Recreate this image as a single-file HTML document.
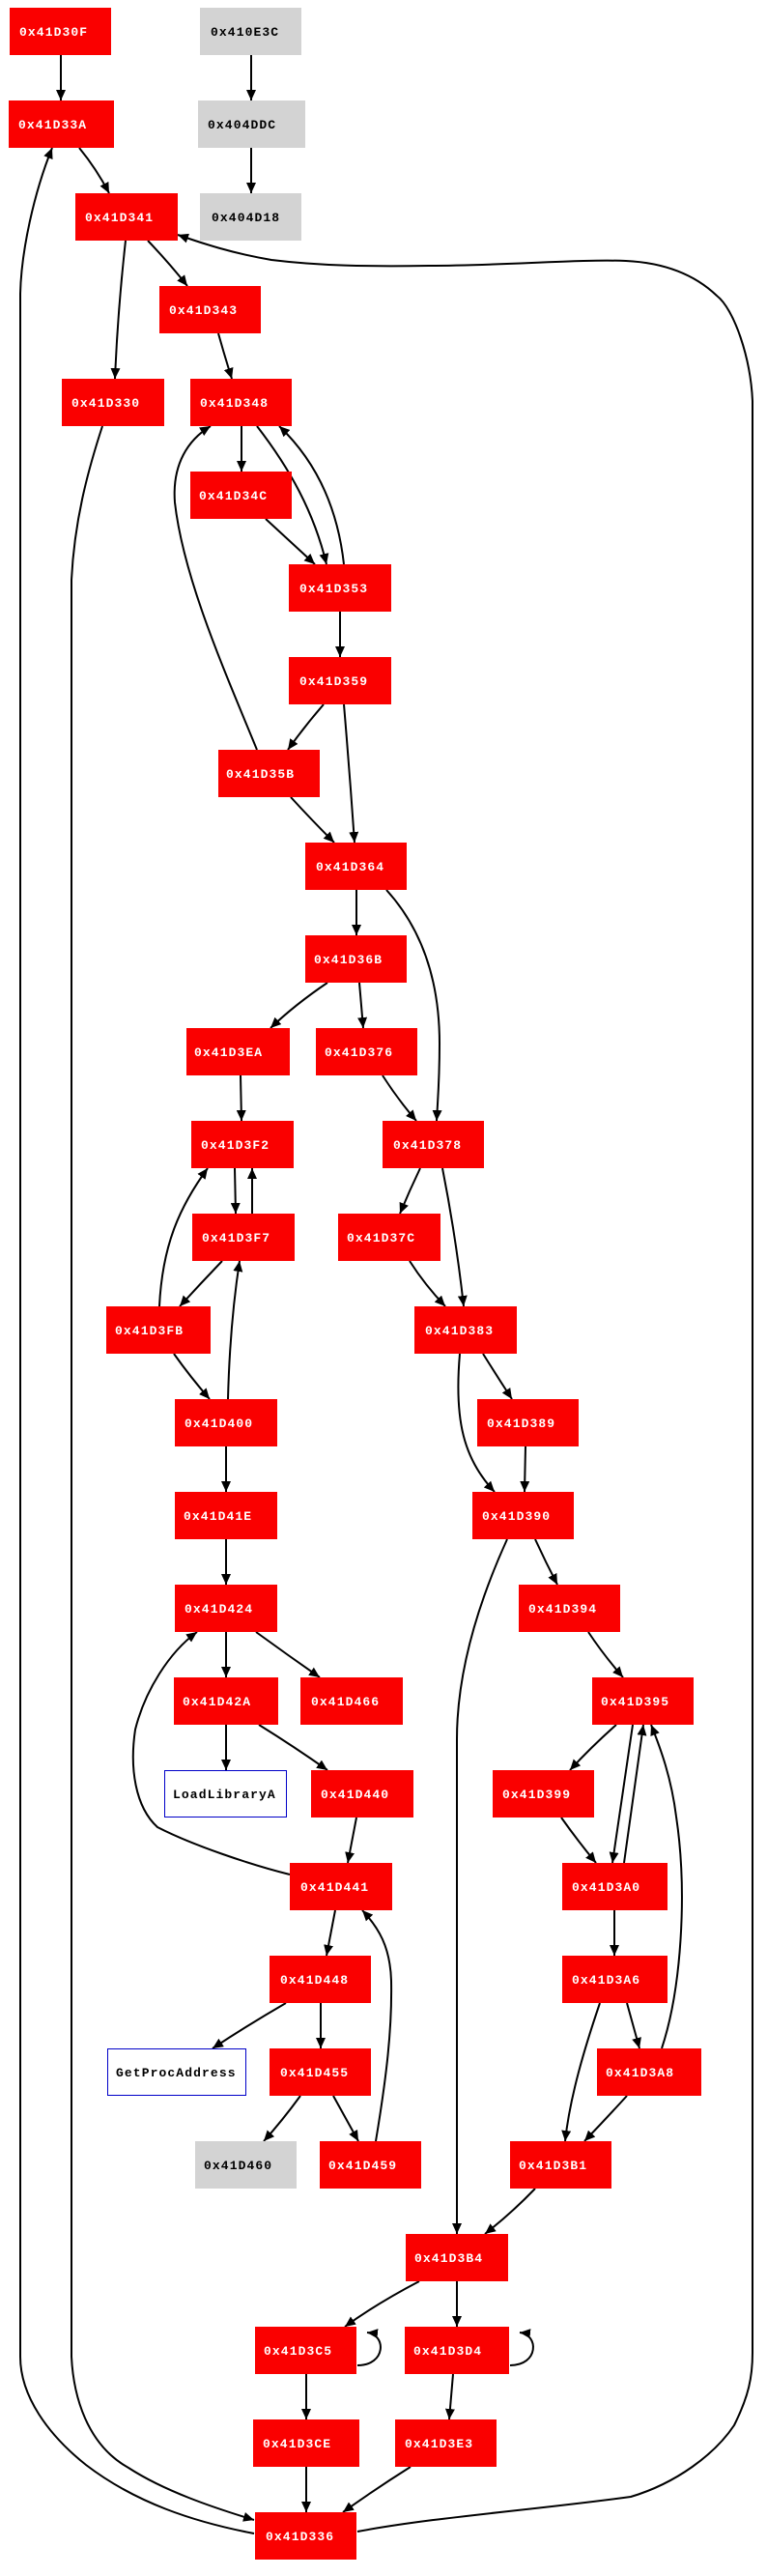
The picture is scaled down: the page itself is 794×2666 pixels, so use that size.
<!DOCTYPE html>
<html><head><meta charset="utf-8"><style>
html,body{margin:0;padding:0;background:#fff;}
svg{display:block;}
text{font-family:"Liberation Mono",monospace;font-size:13px;letter-spacing:1.1px;font-weight:bold;}
</style></head><body>
<svg width="794" height="2666" viewBox="0 0 794 2666" xmlns="http://www.w3.org/2000/svg">
<defs>
<marker id="a" markerUnits="userSpaceOnUse" markerWidth="12" markerHeight="10" refX="11" refY="5" orient="auto">
<path d="M0,0 L11,5 L0,10 Z" fill="#000"/>
</marker>
</defs>
<g fill="none" stroke="#000" stroke-width="2" marker-end="url(#a)">
<path d="M63,57 L63,104"/>
<path d="M260,57 L260,104"/>
<path d="M260,153 L260,200"/>
<path d="M82,153 Q100,175 113,200"/>
<path d="M153,249 Q175,272 194,296"/>
<path d="M130,249 Q122,320 119,392"/>
<path d="M226,345 Q233,370 240,392"/>
<path d="M250,441 L250,488"/>
<path d="M266,441 C300,485 325,530 338,584"/>
<path d="M356,584 C350,530 330,480 289,441"/>
<path d="M275,537 Q300,560 326,584"/>
<path d="M352,633 L352,680"/>
<path d="M335,729 Q315,752 298,776"/>
<path d="M356,729 Q362,800 367,872"/>
<path d="M266,776 C235,700 190,600 181,520 C178,480 195,455 218,441"/>
<path d="M301,825 Q322,848 346,872"/>
<path d="M369,921 L369,968"/>
<path d="M400,921 C440,965 455,1020 455,1080 C455,1120 453,1140 452,1160"/>
<path d="M339,1017 Q305,1040 280,1064"/>
<path d="M372,1017 Q374,1040 376,1064"/>
<path d="M249,1113 L250,1160"/>
<path d="M396,1113 Q412,1138 431,1160"/>
<path d="M243,1209 L244,1256"/>
<path d="M261,1256 L261,1209"/>
<path d="M165,1352 C168,1290 185,1250 215,1209"/>
<path d="M230,1305 Q208,1328 186,1352"/>
<path d="M435,1209 Q424,1232 414,1256"/>
<path d="M458,1209 Q472,1280 480,1352"/>
<path d="M424,1305 Q440,1330 461,1352"/>
<path d="M180,1401 Q197,1425 217,1448"/>
<path d="M236,1448 Q238,1370 248,1305"/>
<path d="M500,1401 Q515,1425 530,1448"/>
<path d="M476,1401 C470,1470 480,1510 512,1544"/>
<path d="M544,1497 L543,1544"/>
<path d="M234,1497 L234,1544"/>
<path d="M234,1593 L234,1640"/>
<path d="M554,1593 Q565,1617 577,1640"/>
<path d="M525,1593 C490,1670 473,1740 473,1800 L473,2312"/>
<path d="M609,1689 Q625,1713 645,1736"/>
<path d="M234,1689 L234,1736"/>
<path d="M265,1689 Q298,1713 331,1736"/>
<path d="M234,1785 L234,1832"/>
<path d="M268,1785 Q305,1808 339,1832"/>
<path d="M300,1940 C260,1930 200,1910 163,1891 C140,1870 134,1830 140,1790 C150,1750 175,1710 204,1689"/>
<path d="M369,1881 L360,1928"/>
<path d="M347,1977 L338,2024"/>
<path d="M389,2216 C400,2150 406,2100 405,2050 C404,2015 392,1995 375,1977"/>
<path d="M296,2073 Q258,2095 220,2120"/>
<path d="M332,2073 L332,2120"/>
<path d="M311,2169 Q292,2195 273,2216"/>
<path d="M345,2169 L371,2216"/>
<path d="M638,1785 Q612,1808 590,1832"/>
<path d="M655,1785 L634,1928"/>
<path d="M646,1928 L666,1785"/>
<path d="M685,2120 C705,2060 712,1960 700,1880 C695,1840 684,1810 674,1785"/>
<path d="M581,1881 Q598,1905 617,1928"/>
<path d="M636,1977 L636,2024"/>
<path d="M649,2073 L662,2120"/>
<path d="M621,2073 C605,2120 590,2170 585,2216"/>
<path d="M649,2169 Q628,2192 605,2216"/>
<path d="M554,2265 Q530,2290 502,2312"/>
<path d="M434,2361 Q390,2384 357,2408"/>
<path d="M473,2361 L473,2408"/>
<path d="M370,2448 C400,2448 400,2416 380,2414"/>
<path d="M528,2448 C558,2448 558,2416 538,2414"/>
<path d="M317,2457 L317,2504"/>
<path d="M469,2457 L465,2504"/>
<path d="M317,2553 L317,2600"/>
<path d="M425,2553 Q390,2575 355,2600"/>
<path d="M106,441 C90,490 77,540 74,600 L74,2439 C76,2480 90,2530 133,2554 C170,2578 220,2595 263,2608"/>
<path d="M263,2622 C200,2610 140,2590 89,2551 C50,2520 21,2480 21,2439 L21,304 C22,260 35,200 54,153"/>
<path d="M370,2620 C450,2605 550,2598 653,2584 C700,2570 740,2540 760,2510 C775,2480 779,2460 779,2435 L779,415 C777,370 760,320 742,306 C720,285 690,272 648,270 C600,268 520,275 444,275 C380,276 330,275 281,269 C240,262 210,252 184,243"/>
</g>
<g>
<rect x="10" y="8" width="105" height="49" fill="#fa0000"/>
<rect x="207" y="8" width="105" height="49" fill="#d3d3d3"/>
<rect x="9" y="104" width="109" height="49" fill="#fa0000"/>
<rect x="205" y="104" width="111" height="49" fill="#d3d3d3"/>
<rect x="78" y="200" width="106" height="49" fill="#fa0000"/>
<rect x="207" y="200" width="105" height="49" fill="#d3d3d3"/>
<rect x="165" y="296" width="105" height="49" fill="#fa0000"/>
<rect x="64" y="392" width="106" height="49" fill="#fa0000"/>
<rect x="197" y="392" width="105" height="49" fill="#fa0000"/>
<rect x="197" y="488" width="105" height="49" fill="#fa0000"/>
<rect x="299" y="584" width="106" height="49" fill="#fa0000"/>
<rect x="299" y="680" width="106" height="49" fill="#fa0000"/>
<rect x="226" y="776" width="105" height="49" fill="#fa0000"/>
<rect x="316" y="872" width="105" height="49" fill="#fa0000"/>
<rect x="316" y="968" width="105" height="49" fill="#fa0000"/>
<rect x="193" y="1064" width="107" height="49" fill="#fa0000"/>
<rect x="327" y="1064" width="105" height="49" fill="#fa0000"/>
<rect x="198" y="1160" width="106" height="49" fill="#fa0000"/>
<rect x="396" y="1160" width="105" height="49" fill="#fa0000"/>
<rect x="199" y="1256" width="106" height="49" fill="#fa0000"/>
<rect x="350" y="1256" width="106" height="49" fill="#fa0000"/>
<rect x="110" y="1352" width="108" height="49" fill="#fa0000"/>
<rect x="429" y="1352" width="106" height="49" fill="#fa0000"/>
<rect x="181" y="1448" width="106" height="49" fill="#fa0000"/>
<rect x="494" y="1448" width="105" height="49" fill="#fa0000"/>
<rect x="181" y="1544" width="106" height="49" fill="#fa0000"/>
<rect x="489" y="1544" width="105" height="49" fill="#fa0000"/>
<rect x="181" y="1640" width="106" height="49" fill="#fa0000"/>
<rect x="537" y="1640" width="105" height="49" fill="#fa0000"/>
<rect x="180" y="1736" width="108" height="49" fill="#fa0000"/>
<rect x="311" y="1736" width="106" height="49" fill="#fa0000"/>
<rect x="613" y="1736" width="105" height="49" fill="#fa0000"/>
<rect x="170.5" y="1832.5" width="126" height="48" fill="#fff" stroke="#0000c8" stroke-width="1"/>
<rect x="322" y="1832" width="106" height="49" fill="#fa0000"/>
<rect x="510" y="1832" width="105" height="49" fill="#fa0000"/>
<rect x="300" y="1928" width="106" height="49" fill="#fa0000"/>
<rect x="582" y="1928" width="109" height="49" fill="#fa0000"/>
<rect x="279" y="2024" width="105" height="49" fill="#fa0000"/>
<rect x="582" y="2024" width="109" height="49" fill="#fa0000"/>
<rect x="111.5" y="2120.5" width="143" height="48" fill="#fff" stroke="#0000c8" stroke-width="1"/>
<rect x="279" y="2120" width="105" height="49" fill="#fa0000"/>
<rect x="618" y="2120" width="108" height="49" fill="#fa0000"/>
<rect x="202" y="2216" width="105" height="49" fill="#d3d3d3"/>
<rect x="331" y="2216" width="105" height="49" fill="#fa0000"/>
<rect x="528" y="2216" width="105" height="49" fill="#fa0000"/>
<rect x="420" y="2312" width="106" height="49" fill="#fa0000"/>
<rect x="264" y="2408" width="105" height="49" fill="#fa0000"/>
<rect x="419" y="2408" width="108" height="49" fill="#fa0000"/>
<rect x="262" y="2504" width="110" height="49" fill="#fa0000"/>
<rect x="409" y="2504" width="105" height="49" fill="#fa0000"/>
<rect x="264" y="2600" width="105" height="49" fill="#fa0000"/>
</g>
<g fill="#fff">
<text x="20" y="37">0x41D30F</text>
<text x="19" y="133">0x41D33A</text>
<text x="88" y="229">0x41D341</text>
<text x="175" y="325">0x41D343</text>
<text x="74" y="421">0x41D330</text>
<text x="207" y="421">0x41D348</text>
<text x="206" y="517">0x41D34C</text>
<text x="310" y="613">0x41D353</text>
<text x="310" y="709">0x41D359</text>
<text x="234" y="805">0x41D35B</text>
<text x="327" y="901">0x41D364</text>
<text x="325" y="997">0x41D36B</text>
<text x="201" y="1093">0x41D3EA</text>
<text x="336" y="1093">0x41D376</text>
<text x="208" y="1189">0x41D3F2</text>
<text x="407" y="1189">0x41D378</text>
<text x="209" y="1285">0x41D3F7</text>
<text x="359" y="1285">0x41D37C</text>
<text x="119" y="1381">0x41D3FB</text>
<text x="440" y="1381">0x41D383</text>
<text x="191" y="1477">0x41D400</text>
<text x="504" y="1477">0x41D389</text>
<text x="190" y="1573">0x41D41E</text>
<text x="499" y="1573">0x41D390</text>
<text x="191" y="1669">0x41D424</text>
<text x="547" y="1669">0x41D394</text>
<text x="189" y="1765">0x41D42A</text>
<text x="322" y="1765">0x41D466</text>
<text x="622" y="1765">0x41D395</text>
<text x="332" y="1861">0x41D440</text>
<text x="520" y="1861">0x41D399</text>
<text x="311" y="1957">0x41D441</text>
<text x="592" y="1957">0x41D3A0</text>
<text x="290" y="2053">0x41D448</text>
<text x="592" y="2053">0x41D3A6</text>
<text x="290" y="2149">0x41D455</text>
<text x="627" y="2149">0x41D3A8</text>
<text x="340" y="2245">0x41D459</text>
<text x="537" y="2245">0x41D3B1</text>
<text x="429" y="2341">0x41D3B4</text>
<text x="273" y="2437">0x41D3C5</text>
<text x="428" y="2437">0x41D3D4</text>
<text x="272" y="2533">0x41D3CE</text>
<text x="419" y="2533">0x41D3E3</text>
<text x="275" y="2629">0x41D336</text>
</g>
<g fill="#000">
<text x="218" y="37">0x410E3C</text>
<text x="215" y="133">0x404DDC</text>
<text x="219" y="229">0x404D18</text>
<text x="179" y="1861">LoadLibraryA</text>
<text x="120" y="2149">GetProcAddress</text>
<text x="211" y="2245">0x41D460</text>
</g>
</svg>
</body></html>
